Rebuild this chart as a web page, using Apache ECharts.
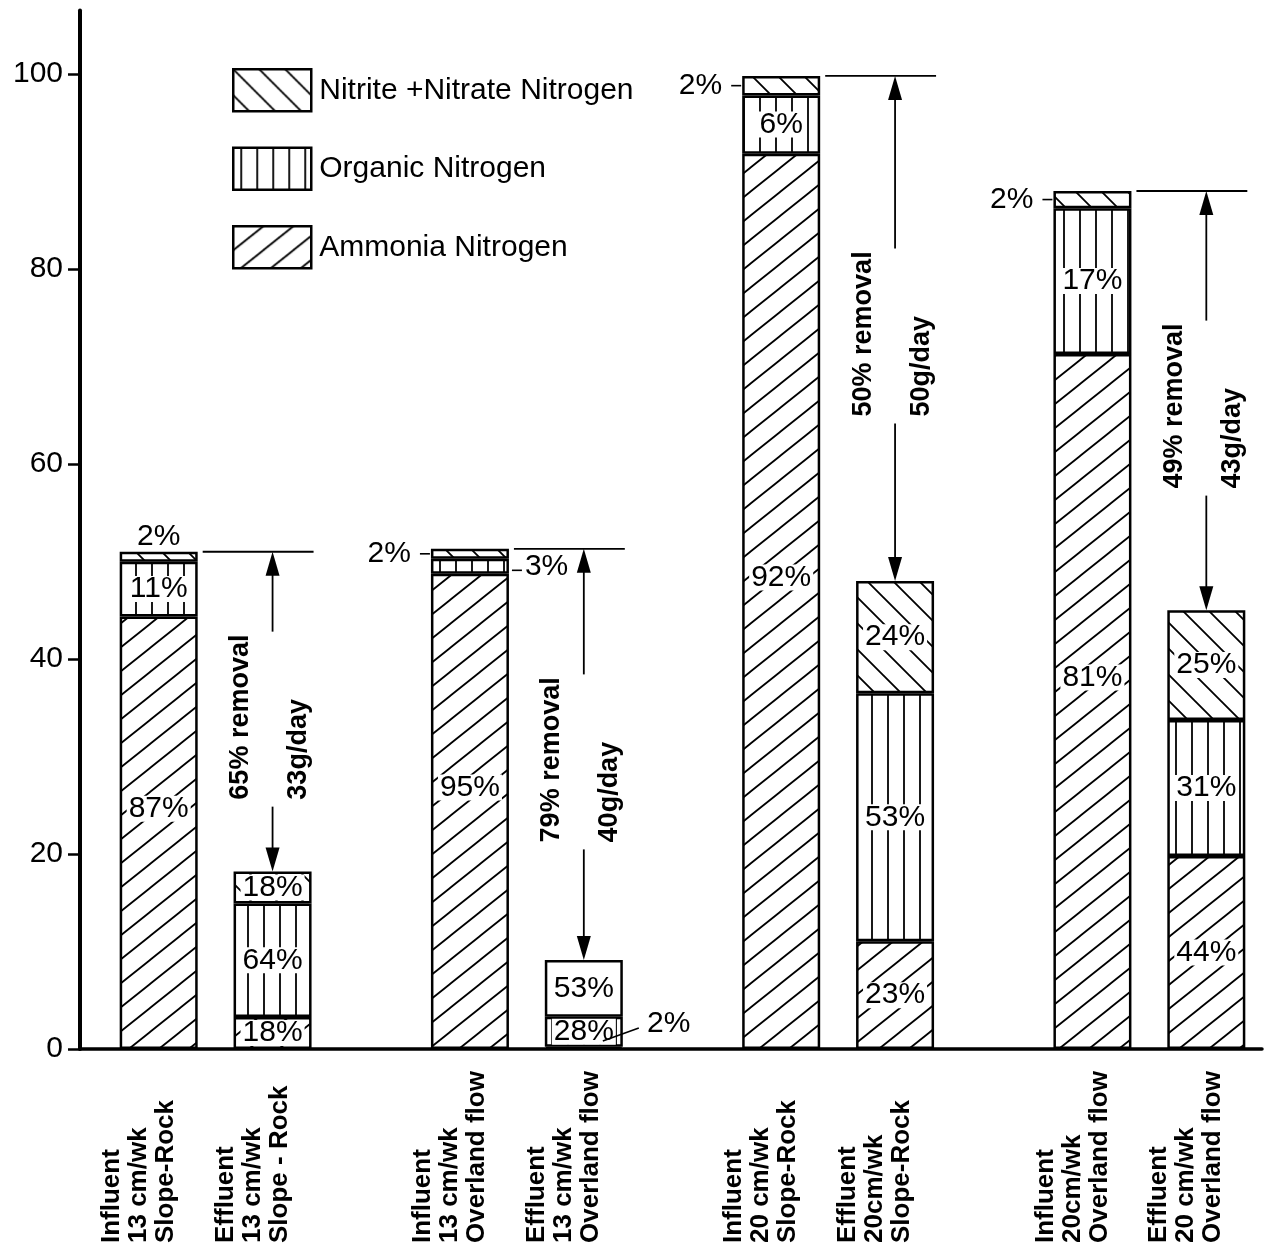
<!DOCTYPE html>
<html>
<head>
<meta charset="utf-8">
<script src="https://cdn.jsdelivr.net/npm/echarts@6/dist/echarts.min.js"></script>
<style>
  html, body { margin: 0; padding: 0; background: #fff; }
  #chart { width: 1270px; height: 1252px; }
</style>
</head>
<body>
<div id="chart"></div>
<script>
// ---- data -------------------------------------------------------------
const groups = ['13 cm/wk Slope-Rock', '13 cm/wk Overland flow', '20 cm/wk Slope-Rock', '20 cm/wk Overland flow'];
const influentNames = ['Influent\n13 cm/wk\nSlope-Rock', 'Influent\n13 cm/wk\nOverland flow', 'Influent\n20 cm/wk\nSlope-Rock', 'Influent\n20cm/wk\nOverland flow'];
const effluentNames = ['Effluent\n13 cm/wk\nSlope - Rock', 'Effluent\n13 cm/wk\nOverland flow', 'Effluent\n20cm/wk\nSlope-Rock', 'Effluent\n20 cm/wk\nOverland flow'];

// total nitrogen per bar
const influentTotal = [51.0, 51.3, 99.8, 88.0];
const effluentTotal = [18.2, 11.0, 48.0, 45.0];

// share of each nitrogen form, percent of the bar total
const influentAmmoniaPct = [87, 95, 92, 81];
const influentOrganicPct = [11, 3, 6, 17];
const influentNitritePct = [2, 2, 2, 2];
const effluentAmmoniaPct = [18, 2, 23, 44];
const effluentOrganicPct = [64, 28, 53, 31];
const effluentNitritePct = [18, 53, 24, 25];

// removal between influent and effluent
const removalPct = [65, 79, 50, 49];
const removalRate = [33, 40, 50, 43];

const yTicks = [0, 20, 40, 60, 80, 100];

// ---- styling ----------------------------------------------------------
const FONT = "'Liberation Sans', Arial, sans-serif";
const BAR_W = 78;
const BAR_GAP = '46%';

function stripes(kind, w, h) {
  const cv = document.createElement('canvas');
  cv.width = w; cv.height = h;
  const ctx = cv.getContext('2d');
  ctx.fillStyle = '#fff';
  ctx.fillRect(0, 0, w, h);
  ctx.strokeStyle = '#000';
  ctx.lineWidth = 1.8;
  ctx.beginPath();
  if (kind === 'vertical') {
    ctx.moveTo(w / 2, 0); ctx.lineTo(w / 2, h);
  } else {
    for (let k = -1; k <= 1; k++) {
      if (kind === 'rising') { ctx.moveTo(-w, h * (2 + k)); ctx.lineTo(2 * w, h * (k - 1)); }
      else { ctx.moveTo(-w, h * (k - 1)); ctx.lineTo(2 * w, h * (k + 2)); }
    }
  }
  ctx.stroke();
  return { image: cv, repeat: 'repeat' };
}

const components = [
  { key: 'ammonia', name: 'Ammonia Nitrogen', fill: stripes('rising', 30, 24) },
  { key: 'organic', name: 'Organic Nitrogen', fill: stripes('vertical', 16, 4) },
  { key: 'nitrite', name: 'Nitrite +Nitrate Nitrogen', fill: stripes('falling', 26, 26) }
];

const stacks = [
  { id: 'Influent', total: influentTotal,
    pct: { ammonia: influentAmmoniaPct, organic: influentOrganicPct, nitrite: influentNitritePct } },
  { id: 'Effluent', total: effluentTotal,
    pct: { ammonia: effluentAmmoniaPct, organic: effluentOrganicPct, nitrite: effluentNitritePct } }
];

// labels that sit outside their (thin) segment, with the kind of leader drawn to them
const outsideLabel = {
  'Influent/nitrite/0': { position: 'top', distance: 2 },
  'Influent/nitrite/1': { position: 'left', distance: 20, guide: 'left' },
  'Influent/nitrite/2': { position: 'left', distance: 20, guide: 'left' },
  'Influent/nitrite/3': { position: 'left', distance: 20, guide: 'left' },
  'Influent/organic/1': { position: 'right', distance: 16, guide: 'right' },
  'Effluent/ammonia/1': { position: 'right', distance: 24, offset: [0, -24], guide: 'slant' }
};
// segments drawn without hatching
const plainSegment = { 'Effluent/nitrite/1': true };

const baseLabel = {
  show: true, color: '#000', fontFamily: FONT, fontSize: 30, lineHeight: 26
};

// segment heights come from total x share
const segValue = (st, key, i) => st.total[i] * st.pct[key][i] / 100;
const stackTop = st => groups.map((g, i) =>
  components.reduce((s, c) => s + segValue(st, c.key, i), 0));

const barSeries = [];
stacks.forEach(st => {
  components.forEach(comp => {
    barSeries.push({
      type: 'bar',
      name: comp.name,
      stack: st.id,
      xAxisIndex: 0, yAxisIndex: 0,
      barWidth: BAR_W,
      barGap: BAR_GAP,
      itemStyle: { color: comp.fill, borderColor: '#000', borderWidth: 2.5 },
      data: groups.map((g, i) => {
        const id = st.id + '/' + comp.key + '/' + i;
        const pct = st.pct[comp.key][i];
        const out = outsideLabel[id];
        const label = Object.assign({}, baseLabel, { formatter: pct + '%' });
        if (out) {
          label.position = out.position;
          label.distance = out.distance;
          if (out.offset) label.offset = out.offset;
        } else {
          label.position = 'inside';
          label.backgroundColor = '#fff';
          label.padding = [0, 2];
          if (st.id === 'Influent' && comp.key === 'ammonia') label.offset = [0, -24];
        }
        const item = { value: segValue(st, comp.key, i), label: label };
        if (plainSegment[id]) item.itemStyle = { color: '#fff' };
        return item;
      })
    });
  });
});

const influentTop = stackTop(stacks[0]);
const effluentTop = stackTop(stacks[1]);

// removal arrows, their captions, label leaders and the rotated bar captions
const annotationSeries = {
  type: 'custom',
  xAxisIndex: 0, yAxisIndex: 0,
  silent: true, clip: false, z: 10,
  data: groups.map((g, i) => [i, influentTop[i], effluentTop[i]]),
  encode: { x: 0, y: [1, 2] },
  renderItem: function (params, api) {
    const idx = params.dataIndex;
    const cat = api.value(0);
    let offIn, offEf;
    const lay = api.barLayout ? api.barLayout({ count: 2, barWidth: BAR_W, barGap: BAR_GAP }) : null;
    if (lay && lay[0] && lay[1]) {
      offIn = lay[0].offsetCenter; offEf = lay[1].offsetCenter;
    } else {
      const half = (BAR_W * 2 + BAR_W * 0.46) / 2;
      offIn = -half + BAR_W / 2; offEf = half - BAR_W / 2;
    }
    const base = api.coord([cat, 0]);
    const xIn = base[0] + offIn, xEf = base[0] + offEf;
    const y0 = base[1];
    const yIn = api.coord([cat, api.value(1)])[1];
    const yEf = api.coord([cat, api.value(2)])[1];
    const mid = (yIn + yEf) / 2;
    const thin = { stroke: '#000', lineWidth: 1.8 };
    const head = 24, hw = 7;
    const capStyle = t => ({ text: t, fill: '#000', fontFamily: FONT, fontSize: 27, fontWeight: 'bold',
                             align: 'left', verticalAlign: 'middle' });
    const nameStyle = t => ({ text: t, fill: '#000', fontFamily: FONT, fontSize: 26, fontWeight: 'bold',
                              lineHeight: 27, align: 'left', verticalAlign: 'middle' });

    const children = [
      { type: 'line', shape: { x1: xIn + BAR_W / 2 + 5, y1: yIn, x2: xEf + BAR_W / 2 + 2, y2: yIn }, style: thin },
      { type: 'line', shape: { x1: xEf, y1: yIn + head - 2, x2: xEf, y2: mid - 80 }, style: thin },
      { type: 'line', shape: { x1: xEf, y1: mid + 95, x2: xEf, y2: yEf - head + 2 }, style: thin },
      { type: 'polygon', shape: { points: [[xEf, yIn], [xEf - hw, yIn + head], [xEf + hw, yIn + head]] }, style: { fill: '#000' } },
      { type: 'polygon', shape: { points: [[xEf, yEf], [xEf - hw, yEf - head], [xEf + hw, yEf - head]] }, style: { fill: '#000' } },
      { type: 'text', x: xEf - 32, y: mid + 88, rotation: Math.PI / 2, style: capStyle(removalPct[idx] + '% removal') },
      { type: 'text', x: xEf + 26, y: mid + 88, rotation: Math.PI / 2, style: capStyle(removalRate[idx] + 'g/day') },
      { type: 'text', x: xIn - 20, y: y0 + 194, rotation: Math.PI / 2, style: nameStyle(influentNames[idx]) },
      { type: 'text', x: xEf - 20, y: y0 + 194, rotation: Math.PI / 2, style: nameStyle(effluentNames[idx]) }
    ];

    // short leaders from outside labels to their segment
    stacks.forEach((st, s) => {
      const xc = s === 0 ? xIn : xEf;
      let cum = 0;
      components.forEach(comp => {
        const v = segValue(st, comp.key, idx);
        const out = outsideLabel[st.id + '/' + comp.key + '/' + idx];
        const yc = api.coord([cat, cum + v / 2])[1];
        cum += v;
        if (!out || !out.guide) return;
        const left = xc - BAR_W / 2, right = xc + BAR_W / 2;
        let shape;
        if (out.guide === 'left') shape = { x1: left - 11, y1: yc, x2: left - 1, y2: yc };
        else if (out.guide === 'right') shape = { x1: right + 3, y1: yc + 4, x2: right + 13, y2: yc + 4 };
        else shape = { x1: right - 20, y1: y0 - 8, x2: right + 16, y2: y0 - 21 };
        children.push({ type: 'line', shape: shape, style: { stroke: '#000', lineWidth: 1.6 } });
      });
    });

    return { type: 'group', children: children };
  }
};

const chart = echarts.init(document.getElementById('chart'), null, { renderer: 'canvas' });
chart.setOption({
  animation: false,
  backgroundColor: '#fff',
  grid: [
    { left: 60, width: 1245, top: 10.6, bottom: 203, containLabel: false, outerBoundsMode: 'none' },
    { left: 80, right: 8, top: 10.6, bottom: 203, containLabel: false, outerBoundsMode: 'none' }
  ],
  legend: {
    data: ['Nitrite +Nitrate Nitrogen', 'Organic Nitrogen', 'Ammonia Nitrogen'],
    orient: 'vertical',
    left: 232, top: 68,
    padding: 0,
    itemWidth: 78, itemHeight: 42, itemGap: 34,
    icon: 'rect',
    selectedMode: false,
    itemStyle: { borderColor: '#000', borderWidth: 2.5 },
    textStyle: { color: '#000', fontFamily: FONT, fontSize: 30, padding: [0, 0, 0, 3] }
  },
  xAxis: [
    { type: 'category', gridIndex: 0, data: groups,
      axisLine: { show: false }, axisTick: { show: false }, axisLabel: { show: false }, splitLine: { show: false } },
    { type: 'value', gridIndex: 1, min: 0, max: 1,
      axisLine: { show: true, lineStyle: { color: '#000', width: 3.5 } },
      axisTick: { show: false }, axisLabel: { show: false }, splitLine: { show: false } }
  ],
  yAxis: [
    { type: 'value', gridIndex: 0, min: 0, max: 106.5, show: false, splitLine: { show: false } },
    { type: 'value', gridIndex: 1, min: 0, max: 106.5, interval: 20,
      axisLine: { show: true, lineStyle: { color: '#000', width: 4 } },
      axisTick: { show: true, length: 12, customValues: yTicks, lineStyle: { color: '#000', width: 2.5 } },
      axisLabel: { show: true, customValues: yTicks, margin: 17, color: '#000', fontFamily: FONT, fontSize: 30 },
      splitLine: { show: false } }
  ],
  series: barSeries.concat([annotationSeries])
});
</script>
</body>
</html>
